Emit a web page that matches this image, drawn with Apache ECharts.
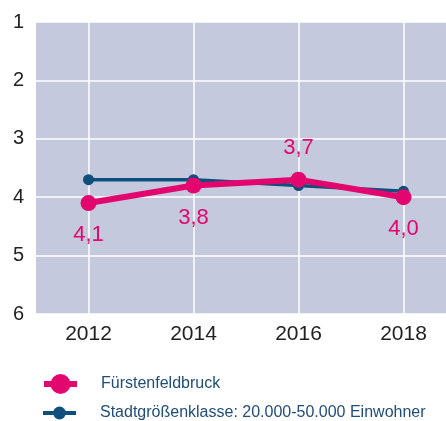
<!DOCTYPE html>
<html>
<head>
<meta charset="utf-8">
<script src="https://cdn.jsdelivr.net/npm/echarts@6/dist/echarts.min.js"></script>
<style>
  html, body { margin: 0; padding: 0; background: #fff; }
  #chart { width: 446px; height: 421px; }
</style>
</head>
<body>
<div id="chart"></div>
<script>
// Jahre und Noten (1 = beste Note, Achse invertiert)
var years = ['2012', '2014', '2016', '2018'];
var ffb = [4.1, 3.8, 3.7, 4.0];
var stadtKlasse = [3.7, 3.7, 3.8, 3.9];
var ffbLabelPos = ['bottom', 'bottom', 'top', 'bottom'];

var pink = '#e3066f';
var blue = '#0f4f7c';

var chart = echarts.init(document.getElementById('chart'));

var ffbData = [];
for (var i = 0; i < ffb.length; i++) {
  ffbData.push({
    value: ffb[i],
    label: { position: ffbLabelPos[i] }
  });
}

var option = {
  animation: false,
  grid: {
    left: 36,
    top: 22,
    width: 420,
    height: 292,
    outerBoundsMode: 'none',
    containLabel: false,
    show: true,
    backgroundColor: '#c5c9de',
    borderWidth: 0
  },
  legend: [{
    data: ['Fürstenfeldbruck'],
    left: 36,
    top: 369,
    itemWidth: 33,
    itemHeight: 25,
    lineStyle: { width: 6 },
    textStyle: { color: '#1f4d78', fontSize: 16, fontFamily: 'Liberation Sans', padding: [0, 0, 0, 19] }
  }, {
    data: ['Stadtgrößenklasse: 20.000-50.000 Einwohner'],
    left: 36,
    top: 400,
    itemWidth: 33,
    itemHeight: 16,
    lineStyle: { width: 4 },
    textStyle: { color: '#1f4d78', fontSize: 16, fontFamily: 'Liberation Sans', padding: [0, 0, 0, 19] }
  }],
  xAxis: {
    type: 'category',
    data: years,
    boundaryGap: true,
    axisLine: { show: false },
    axisTick: { show: false },
    axisLabel: { color: '#222', fontSize: 21, fontFamily: 'Liberation Sans', margin: 10 },
    splitLine: { show: true, alignWithLabel: true, lineStyle: { color: '#fff', width: 1.5 } }
  },
  yAxis: {
    type: 'value',
    inverse: true,
    min: 1,
    max: 6,
    interval: 1,
    axisLine: { show: false },
    axisTick: { show: false },
    axisLabel: { color: '#222', fontSize: 20, fontFamily: 'Liberation Sans', margin: 12 },
    splitLine: { lineStyle: { color: '#fff', width: 1.5 } }
  },
  series: [{
    name: 'Stadtgrößenklasse: 20.000-50.000 Einwohner',
    type: 'line',
    data: stadtKlasse,
    symbol: 'circle',
    symbolSize: 11,
    itemStyle: { color: blue },
    lineStyle: { color: blue, width: 3.5 },
    z: 2
  }, {
    name: 'Fürstenfeldbruck',
    type: 'line',
    data: ffbData,
    symbol: 'circle',
    symbolSize: 16,
    itemStyle: { color: pink },
    lineStyle: { color: pink, width: 6 },
    label: {
      show: true,
      distance: 13,
      color: pink,
      fontSize: 22,
      fontFamily: 'Liberation Sans',
      formatter: function (p) { return p.value.toFixed(1).replace('.', ','); }
    },
    z: 3
  }]
};

chart.setOption(option);
</script>
</body>
</html>
